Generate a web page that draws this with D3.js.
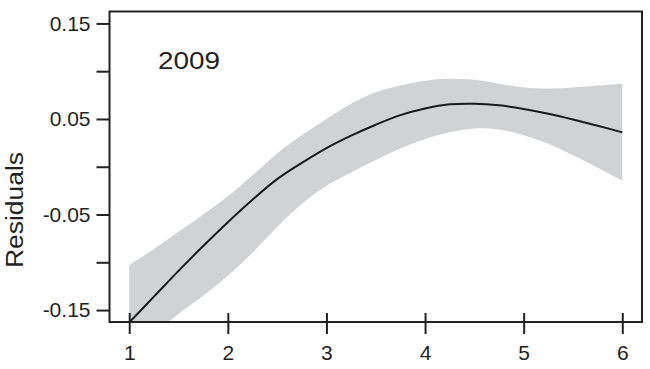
<!DOCTYPE html>
<html>
<head>
<meta charset="utf-8">
<script src="https://cdn.jsdelivr.net/npm/d3@7/dist/d3.min.js"></script>
<style>
  body { margin: 0; background: #fff; }
  text { font-family: "Liberation Sans", Arial, Helvetica, sans-serif; fill: #231f20; }
</style>
</head>
<body>
<script>
// data
var xs     = [1, 1.25, 1.5, 1.75, 2, 2.25, 2.5, 2.75, 3, 3.25, 3.5, 3.75, 4, 4.25, 4.5, 4.75, 5, 5.25, 5.5, 5.75, 6];
var fit    = [-0.163, -0.136, -0.109, -0.083, -0.058, -0.0345, -0.013, 0.004, 0.0195, 0.0325, 0.044, 0.054, 0.061, 0.0653, 0.066, 0.0643, 0.0605, 0.0555, 0.0495, 0.043, 0.036];
var upper  = [-0.103, -0.086, -0.068, -0.050, -0.031, -0.009, 0.014, 0.033, 0.050, 0.066, 0.078, 0.085, 0.090, 0.092, 0.091, 0.087, 0.083, 0.082, 0.083, 0.085, 0.087];
var lower  = [-0.200, -0.175, -0.154, -0.135, -0.114, -0.090, -0.063, -0.039, -0.020, -0.006, 0.007, 0.019, 0.029, 0.036, 0.040, 0.039, 0.033, 0.024, 0.012, -0.001, -0.0146];
var xTicks = [1, 2, 3, 4, 5, 6];
var yTicks = [-0.15, -0.10, -0.05, 0, 0.05, 0.10, 0.15];
var yLabels = ["-0.15", "", "-0.05", "", "0.05", "", "0.15"];
var panelLabel = "2009";
var yTitle = "Residuals";

var width = 650, height = 369;
var margin = {top: 11.5, right: 8, bottom: 47, left: 109.5};

var svg = d3.select("body").append("svg")
    .attr("width", width)
    .attr("height", height);

// scales
var x = d3.scaleLinear().domain([0.8, 6.2]).range([margin.left, width - margin.right]);
var y = d3.scaleLinear().domain([-0.1625, 0.1625]).range([height - margin.bottom, margin.top]);

var rows = xs.map(function(d, i) {
  return {x: d, fit: fit[i], lo: lower[i], hi: upper[i]};
});

// clip to the plot box
svg.append("clipPath").attr("id", "plot")
  .append("rect")
    .attr("x", x.range()[0])
    .attr("y", y.range()[1])
    .attr("width", x.range()[1] - x.range()[0])
    .attr("height", y.range()[0] - y.range()[1]);

var g = svg.append("g").attr("clip-path", "url(#plot)");

// confidence band
var band = d3.area()
    .curve(d3.curveCatmullRom)
    .x(function(d) { return x(d.x); })
    .y0(function(d) { return y(d.lo); })
    .y1(function(d) { return y(d.hi); });

g.append("path")
    .datum(rows)
    .attr("d", band)
    .attr("fill", "#d1d2d4");

// smooth line
var line = d3.line()
    .curve(d3.curveCatmullRom)
    .x(function(d) { return x(d.x); })
    .y(function(d) { return y(d.fit); });

g.append("path")
    .datum(rows)
    .attr("d", line)
    .attr("fill", "none")
    .attr("stroke", "#1a1a1a")
    .attr("stroke-width", 2);

// box
svg.append("rect")
    .attr("x", x.range()[0])
    .attr("y", y.range()[1])
    .attr("width", x.range()[1] - x.range()[0])
    .attr("height", y.range()[0] - y.range()[1])
    .attr("fill", "none")
    .attr("stroke", "#222")
    .attr("stroke-width", 2);

// x axis
var xAxis = svg.append("g")
    .attr("transform", "translate(0," + y.range()[0] + ")")
    .call(d3.axisBottom(x).tickValues(xTicks).tickFormat(d3.format("d")).tickSize(12).tickPadding(11).tickSizeOuter(0));
xAxis.select(".domain").remove();
xAxis.selectAll(".tick line").attr("y1", -9).attr("stroke", "#222").attr("stroke-width", 2);
xAxis.selectAll(".tick text").style("font-size", "21px").attr("fill", "#231f20");

// y axis
var yAxis = svg.append("g")
    .attr("transform", "translate(" + x.range()[0] + ",0)")
    .call(d3.axisLeft(y).tickValues(yTicks).tickFormat(function(d, i) { return yLabels[i]; }).tickSize(13).tickPadding(6).tickSizeOuter(0));
yAxis.select(".domain").remove();
yAxis.selectAll(".tick line").attr("stroke", "#222").attr("stroke-width", 2);
yAxis.selectAll(".tick text").style("font-size", "21px").attr("fill", "#231f20");

// panel label
svg.append("text")
    .attr("x", 158)
    .attr("y", 69)
    .attr("textLength", 62)
    .attr("lengthAdjust", "spacingAndGlyphs")
    .style("font-size", "23px")
    .text(panelLabel);

// y title
svg.append("text")
    .attr("transform", "translate(23,210) rotate(-90)")
    .attr("text-anchor", "middle")
    .attr("textLength", 116)
    .attr("lengthAdjust", "spacingAndGlyphs")
    .style("font-size", "23px")
    .text(yTitle);
</script>
</body>
</html>
